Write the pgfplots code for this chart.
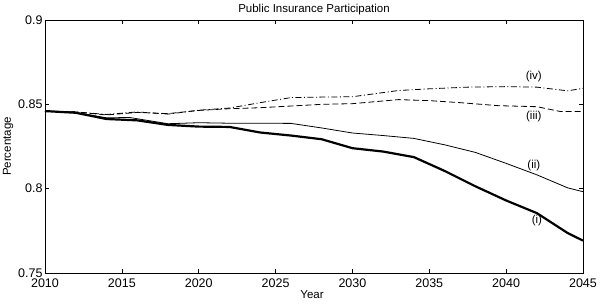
\documentclass[border=0pt]{standalone}
\usepackage{pgfplots}
\pgfplotsset{compat=1.18}
\usepackage{fontspec}
\setmainfont{Liberation Sans}
\begin{document}
\begin{tikzpicture}
\useasboundingbox (-45pt,-33pt) rectangle (555pt,273pt);
\begin{axis}[
  at={(0,0)}, anchor=south west,
  scale only axis, width=538pt, height=253pt,
  xmin=2010, xmax=2045, ymin=0.75, ymax=0.9,
  xtick={2010,2015,...,2045},
  ytick={0.75,0.8,0.85,0.9},
  yticklabels={0.75,0.8,0.85,0.9},
  xticklabel style={/pgf/number format/1000 sep={}},
  /pgf/number format/assume math mode=true,
  tick align=inside, major tick length=4pt,
  tick style={black, line width=0.5pt},
  axis line style={line width=0.6pt},
  ticklabel style={font=\fontsize{12.5}{14}\selectfont},
  xticklabel style={yshift=-2pt},
  yticklabel style={xshift=1pt},
  title={Public Insurance Participation},
  title style={font=\fontsize{11.5}{13}\selectfont, yshift=-4pt},
  xlabel={Year}, ylabel={Percentage},
  label style={font=\fontsize{11.5}{13}\selectfont},
  xlabel style={yshift=4pt, xshift=-2pt},
  ylabel style={yshift=-2pt},
  clip=true,
]
% (i) thick
\addplot[black, line width=2.2pt] coordinates {
(2010,0.8460) (2012,0.8450) (2014,0.8413) (2016,0.8405) (2018,0.8378) (2020,0.8368) (2022,0.8366)
(2024,0.8333) (2026,0.8315) (2028,0.8293) (2030,0.8240) (2032,0.8220) (2034,0.8187)
(2036,0.8105) (2038,0.8014) (2040,0.7930) (2042,0.7855) (2044,0.7737) (2045,0.7692)};
% (ii) thin
\addplot[black, line width=0.8pt] coordinates {
(2010,0.8460) (2012,0.8452) (2014,0.8420) (2015.5,0.8422) (2018,0.8385) (2020,0.8391) (2022,0.8388)
(2024,0.8388) (2026,0.8387) (2028,0.8360) (2030,0.8330) (2032,0.8315) (2034,0.8298)
(2036,0.8260) (2038,0.8215) (2040,0.8150) (2042,0.8082) (2044,0.8005) (2045,0.7982)};
% (iii) dashed
\addplot[black, line width=0.8pt, dash pattern=on 6pt off 3pt] coordinates {
(2010,0.8460) (2012,0.8455) (2014,0.8437) (2016,0.8452) (2018,0.8445) (2020,0.8464) (2022,0.8474)
(2024,0.8480) (2026,0.8490) (2028,0.8500) (2030,0.8504) (2033,0.8528) (2035,0.8522)
(2037,0.8510) (2039.5,0.8492) (2042,0.8486) (2043.5,0.8458) (2045,0.8458)};
% (iv) dash-dot
\addplot[black, line width=0.8pt, dash pattern=on 6pt off 2.5pt on 1pt off 2.5pt] coordinates {
(2010,0.8460) (2012,0.8455) (2014,0.8440) (2016,0.8455) (2018,0.8442) (2020,0.8465) (2022,0.8478)
(2024,0.8510) (2026,0.8540) (2028,0.8543) (2030,0.8545) (2033,0.8582) (2035,0.8592)
(2037.5,0.8602) (2040,0.8605) (2042,0.8602) (2044,0.8580) (2045,0.8595)};
\node[font=\fontsize{11.5}{13}\selectfont] at (axis cs:2041.8,0.8665) {(iv)};
\node[font=\fontsize{11.5}{13}\selectfont] at (axis cs:2041.8,0.8428) {(iii)};
\node[font=\fontsize{11.5}{13}\selectfont] at (axis cs:2041.8,0.8138) {(ii)};
\node[font=\fontsize{11.5}{13}\selectfont] at (axis cs:2042.0,0.7810) {(i)};
\end{axis}
\end{tikzpicture}
\end{document}
